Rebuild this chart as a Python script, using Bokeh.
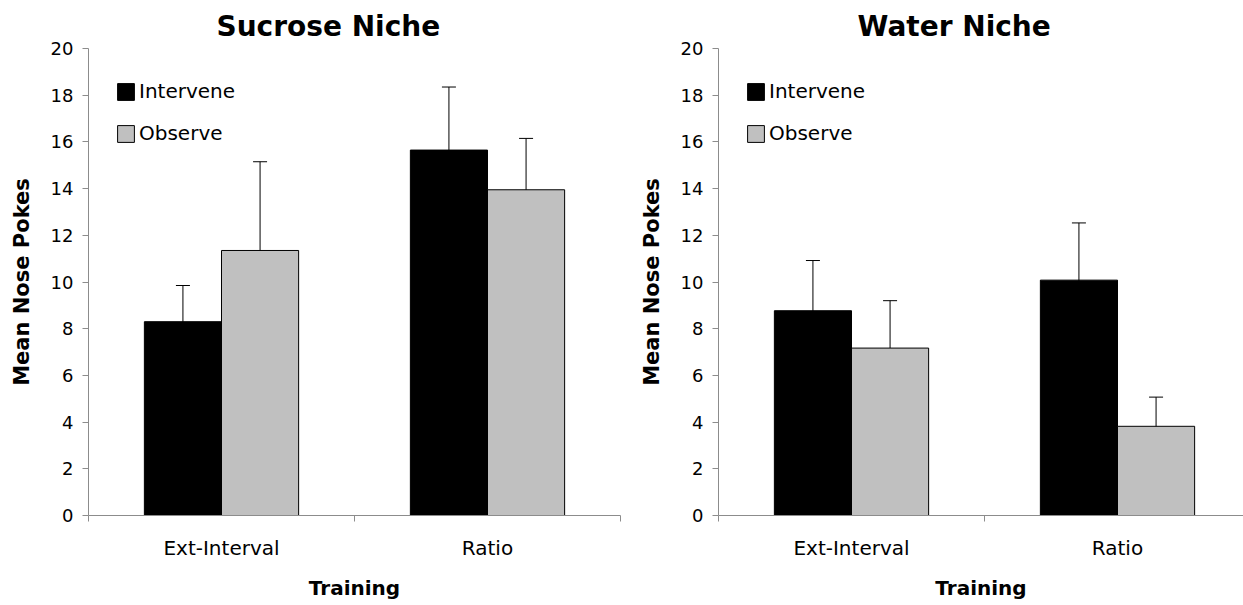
from bokeh.plotting import figure
from bokeh.layouts import row
from bokeh.models import (ColumnDataSource, Whisker, TeeHead, FixedTicker, Range1d,
                          Legend, LegendItem)
from bokeh.embed import file_html
from bokeh.resources import INLINE

# ---- data ----
categories = ["Ext-Interval", "Ratio"]
sucrose_intervene = [8.3, 15.65]
sucrose_intervene_err = [1.55, 2.7]
sucrose_observe = [11.35, 13.95]
sucrose_observe_err = [3.8, 2.2]
water_intervene = [8.77, 10.08]
water_intervene_err = [2.15, 2.45]
water_observe = [7.17, 3.82]
water_observe_err = [2.03, 1.25]
y_ticks = list(range(0, 21, 2))

FONT = "DejaVu Sans"
AXIS_GRAY = "#8c8c8c"
BAR_W = 0.29


def panel(title, intervene, intervene_err, observe, observe_err,
          width, border_left, border_right, x_end, title_offset):
    p = figure(width=width, height=605, output_backend="svg", toolbar_location=None,
               x_range=Range1d(0, x_end), y_range=Range1d(0, 20),
               min_border_left=border_left, min_border_right=border_right,
               min_border_top=48, min_border_bottom=90)
    p.outline_line_color = None
    p.xgrid.visible = False
    p.ygrid.visible = False
    p.background_fill_color = "white"
    p.border_fill_color = "white"

    p.title.text = title
    p.title.text_font = FONT
    p.title.text_font_style = "bold"
    p.title.text_font_size = "28px"
    p.title.align = "left"
    p.title.offset = title_offset
    p.title.text_color = "black"
    p.title.standoff = 12

    n = len(categories)
    xi = [i + 0.5 - BAR_W / 2 for i in range(n)]
    xo = [i + 0.5 + BAR_W / 2 for i in range(n)]
    src_i = ColumnDataSource(dict(x=xi, top=intervene,
                                  up=[v + e for v, e in zip(intervene, intervene_err)],
                                  lo=[v - e for v, e in zip(intervene, intervene_err)]))
    src_o = ColumnDataSource(dict(x=xo, top=observe,
                                  up=[v + e for v, e in zip(observe, observe_err)],
                                  lo=[v - e for v, e in zip(observe, observe_err)]))
    r1 = p.vbar(x="x", top="top", width=BAR_W, bottom=0, source=src_i,
                fill_color="black", line_color="black", line_width=1)
    r2 = p.vbar(x="x", top="top", width=BAR_W, bottom=0, source=src_o,
                fill_color="#c0c0c0", line_color="black", line_width=1)
    for src in (src_i, src_o):
        w = Whisker(source=src, base="x", upper="up", lower="lo",
                    line_color="black", line_width=1,
                    upper_head=TeeHead(size=14, line_color="black", line_width=1),
                    lower_head=TeeHead(size=14, line_color="black", line_width=1))
        p.add_layout(w)

    legend = Legend(items=[LegendItem(label="Intervene", renderers=[r1]),
                           LegendItem(label="Observe", renderers=[r2])],
                    location=(27, 370), orientation="vertical",
                    border_line_color=None, background_fill_alpha=0,
                    padding=0, margin=0, spacing=18,
                    glyph_width=21, glyph_height=21, label_height=21,
                    label_standoff=3, label_text_font=FONT,
                    label_text_font_size="20px", label_text_color="black")
    p.add_layout(legend)

    # y axis
    ya = p.yaxis[0]
    ya.ticker = FixedTicker(ticks=y_ticks)
    ya.axis_line_color = AXIS_GRAY
    ya.major_tick_line_color = AXIS_GRAY
    ya.major_tick_out = 6
    ya.major_tick_in = 0
    ya.minor_tick_line_color = None
    ya.major_label_text_font = FONT
    ya.major_label_text_font_size = "18px"
    ya.major_label_text_color = "black"
    ya.major_label_standoff = 9
    ya.axis_label = "Mean Nose Pokes"
    ya.axis_label_text_font = FONT
    ya.axis_label_text_font_style = "bold"
    ya.axis_label_text_font_size = "21px"
    ya.axis_label_text_color = "black"
    ya.axis_label_standoff = 14

    # x axis
    xa = p.xaxis[0]
    xa.ticker = FixedTicker(ticks=[i + 0.5 for i in range(n)],
                            minor_ticks=list(range(n + 1)))
    xa.major_label_overrides = {i + 0.5: c for i, c in enumerate(categories)}
    xa.axis_line_color = AXIS_GRAY
    xa.major_tick_line_color = None
    xa.major_tick_out = 0
    xa.major_tick_in = 0
    xa.minor_tick_line_color = AXIS_GRAY
    xa.minor_tick_out = 6
    xa.minor_tick_in = 0
    xa.major_label_text_font = FONT
    xa.major_label_text_font_size = "20px"
    xa.major_label_text_color = "black"
    xa.major_label_standoff = 14
    xa.axis_label = "Training"
    xa.axis_label_text_font = FONT
    xa.axis_label_text_font_style = "bold"
    xa.axis_label_text_font_size = "20px"
    xa.axis_label_text_color = "black"
    xa.axis_label_standoff = 13
    return p


p1 = panel("Sucrose Niche", sucrose_intervene, sucrose_intervene_err,
           sucrose_observe, sucrose_observe_err,
           width=625, border_left=88, border_right=5, x_end=2.0, title_offset=128)
p2 = panel("Water Niche", water_intervene, water_intervene_err,
           water_observe, water_observe_err,
           width=618, border_left=93, border_right=0, x_end=525 / 266, title_offset=139)

layout = row(p1, p2)
open("out.html", "w").write(file_html(layout, INLINE))
